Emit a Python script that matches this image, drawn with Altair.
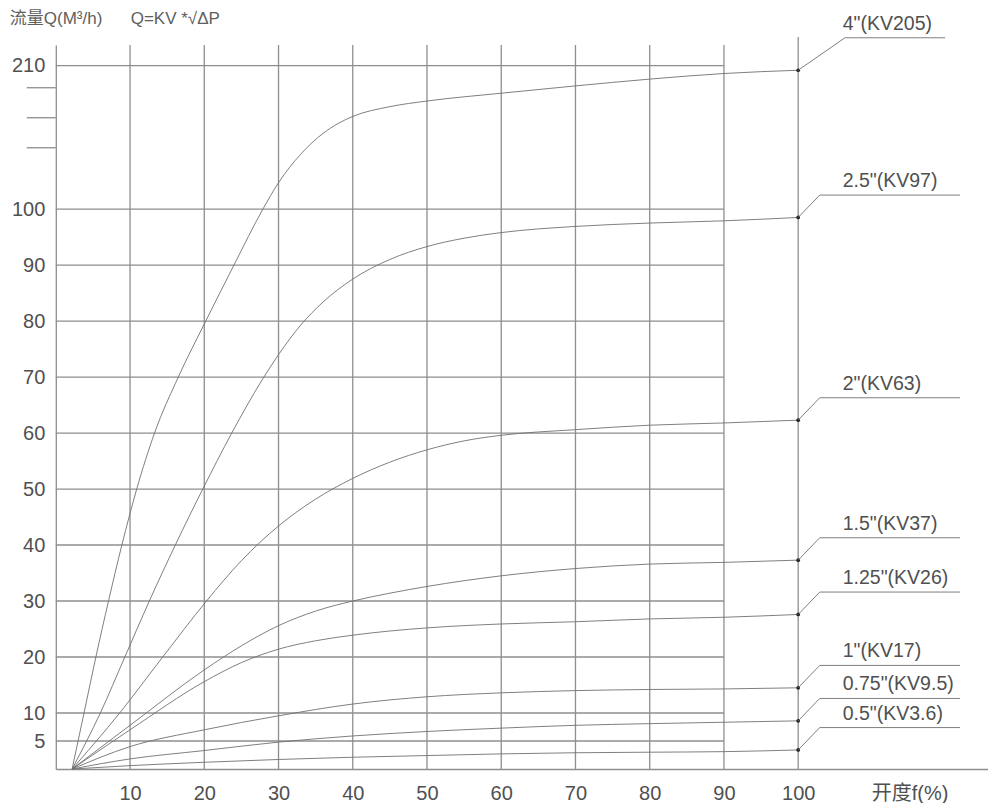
import altair as alt
import pandas as pd

# ---------------- data ----------------
x_tick_values = [10, 20, 30, 40, 50, 60, 70, 80, 90, 100]
y_tick_values = [5, 10, 20, 30, 40, 50, 60, 70, 80, 90, 100, 210]
y_minor_ticks = [147, 170, 193]

series_names = ['4"(KV205)', '2.5"(KV97)', '2"(KV63)', '1.5"(KV37)',
                '1.25"(KV26)', '1"(KV17)', '0.75"(KV9.5)', '0.5"(KV3.6)']

x_4in = [2.2, 3.8, 5.4, 7.1, 8.9, 10.9, 13.3, 16.5, 20.2, 24.0, 27.9, 30, 33, 36, 38, 40, 45, 50, 60, 70, 80, 90, 100]
q_4in = [0, 10, 20, 30, 40, 50, 60, 70, 80, 90, 100, 120.2, 142.1, 158.0, 165.5, 171.0, 178.5, 182.8, 188.8, 194.4, 199.6, 203.9, 206.4]

x_25in = [2.2, 6.0, 9.3, 12.6, 16.1, 19.8, 23.7, 27.8, 30, 33, 36, 40, 45, 50, 55, 60, 70, 80, 90, 100]
q_25in = [0, 10, 20, 30, 40, 50, 60, 69.5, 74.0, 79.3, 83.4, 87.5, 91.0, 93.3, 94.8, 95.8, 96.9, 97.5, 97.9, 98.5]

x_2in = [2.2, 8.6, 14.4, 20.3, 25, 30, 35, 40, 45, 50, 55, 60, 70, 80, 90, 100]
q_2in = [0, 10, 20, 30, 37.2, 43.4, 48.2, 51.9, 54.8, 57.0, 58.6, 59.6, 60.6, 61.4, 61.8, 62.3]

x_15in = [2.2, 10, 20, 25, 30, 35, 40, 45, 50, 60, 70, 80, 90, 100]
q_15in = [0, 7.8, 17.7, 22.0, 25.6, 28.2, 30.0, 31.4, 32.6, 34.5, 35.8, 36.6, 36.9, 37.3]

x_125in = [2.2, 10, 20, 25, 30, 35, 40, 50, 60, 70, 80, 90, 100]
q_125in = [0, 7.0, 15.6, 19.0, 21.4, 22.9, 23.9, 25.2, 25.9, 26.3, 26.8, 27.1, 27.6]

x_1in = [2.2, 10, 20, 30, 40, 50, 60, 70, 80, 90, 100]
q_1in = [0, 4.0, 7.0, 9.5, 11.6, 12.9, 13.6, 14.0, 14.2, 14.3, 14.5]

x_075in = [2.2, 10, 20, 30, 40, 50, 60, 70, 80, 90, 100]
q_075in = [0, 1.8, 3.3, 4.8, 5.9, 6.7, 7.3, 7.8, 8.1, 8.35, 8.6]

x_05in = [2.2, 10, 20, 30, 40, 50, 60, 70, 80, 90, 100]
q_05in = [0, 0.6, 1.2, 1.7, 2.1, 2.4, 2.7, 2.9, 3.0, 3.1, 3.4]

series_x = [x_4in, x_25in, x_2in, x_15in, x_125in, x_1in, x_075in, x_05in]
series_q = [q_4in, q_25in, q_2in, q_15in, q_125in, q_1in, q_075in, q_05in]

# ---------------- layout constants ----------------
K = 0.233            # compression of the axis above 100 (broken axis)
X_MAX = 125.5
Y_TOP = 129.3
W = 931.7
H = 724
FONT = "Liberation Sans, Noto Sans CJK SC, sans-serif"
GRID = "#8e8e8e"
CURVE = "#707070"
TEXT = "#505050"

def disp(q):
    return q if q <= 100 else 100 + (q - 100) * K

rows = []
for name, xs_, qs in zip(series_names, series_x, series_q):
    for xv, qv in zip(xs_, qs):
        rows.append({"series": name, "x": xv, "Q": qv, "d": disp(qv)})
curves_df = pd.DataFrame(rows)

ends_df = curves_df[curves_df["x"] == 100].copy()

lead_rows, label_rows = [], []
for i, (name, qs) in enumerate(zip(series_names, series_q)):
    e = disp(qs[-1])
    knee = 106.3 if i == 0 else 102.9
    rise = 5.8 if i == 0 else 4.0
    stop = 119.8 if i == 0 else 121.8
    lead_rows += [
        {"series": name, "o": 0, "x": 100, "d": e},
        {"series": name, "o": 1, "x": knee, "d": e + rise},
        {"series": name, "o": 2, "x": stop, "d": e + rise},
    ]
    label_rows.append({"series": name, "x": 106.0, "d": e + rise})
lead_df = pd.DataFrame(lead_rows)
label_df = pd.DataFrame(label_rows)

# horizontal grid lines run from the y axis to the 90 % line
hgrid_df = pd.DataFrame({"d": [disp(v) for v in y_tick_values],
                         "x": 0, "x1": x_tick_values[-2]})
vgrid_df = pd.DataFrame({"x": x_tick_values[:-1]})
vlast_df = pd.DataFrame({"x": x_tick_values[-1:]})
minor_df = pd.DataFrame({"d": [disp(v) for v in y_minor_ticks]})

xs = alt.Scale(domain=[0, X_MAX], nice=False, zero=False)
ys = alt.Scale(domain=[0, Y_TOP], nice=False, zero=False)

XAX = alt.Axis(
    values=x_tick_values + [115.0], title=None, grid=False, ticks=False,
    domain=True, domainColor=GRID, domainWidth=1.3,
    labelExpr="datum.value > 105 ? '开度f(%)' : datum.label",
    labelFont=FONT, labelFontSize=20, labelColor=TEXT,
    labelBaseline="alphabetic", labelPadding=30,
    labelFlush=False, labelOverlap=False,
)
YAX = alt.Axis(
    values=[disp(v) for v in y_tick_values], title=None, grid=False, ticks=False,
    domain=True, domainColor=GRID, domainWidth=1.3,
    labelExpr="datum.value > 100.5 ? format(100 + (datum.value - 100) / %s, '.0f') : datum.label" % K,
    labelFont=FONT, labelFontSize=20, labelColor=TEXT, labelPadding=11,
    labelFlush=False, labelOverlap=False,
)

def X(field="x"):
    return alt.X(field + ":Q", scale=xs, axis=XAX)

def Y(field="d"):
    return alt.Y(field + ":Q", scale=ys, axis=YAX)

hgrid = alt.Chart(hgrid_df).mark_rule(color=GRID, strokeWidth=1.3).encode(
    y=Y(), x=X(), x2="x1:Q",
)

vgrid = alt.Chart(vgrid_df).mark_rule(color=GRID, strokeWidth=1.3).encode(
    x=X(), y=alt.value(0), y2=alt.value(H),
)

vlast = alt.Chart(vlast_df).mark_rule(color=GRID, strokeWidth=1.3).encode(
    x=X(), y=alt.value(-8), y2=alt.value(H),
)

minor = alt.Chart(minor_df).mark_rule(color=GRID, strokeWidth=1.3).encode(
    y=Y(), x=alt.value(-29), x2=alt.value(0),
)

curves = alt.Chart(curves_df).mark_line(
    color=CURVE, strokeWidth=0.9, interpolate="monotone"
).encode(x=X(), y=Y(), detail="series:N")

dots = alt.Chart(ends_df).mark_point(
    filled=True, color="#222222", size=14, opacity=1
).encode(x=X(), y=Y())

leaders = alt.Chart(lead_df).mark_line(color=CURVE, strokeWidth=0.9).encode(
    x=X(), y=Y(), detail="series:N", order="o:Q",
)

labels = alt.Chart(label_df).mark_text(
    align="left", baseline="alphabetic", dy=-8, font=FONT, fontSize=19.5, color=TEXT
).encode(x=X(), y=Y(), text="series:N")

chart = alt.layer(hgrid, vgrid, vlast, minor, curves, dots, leaders, labels).properties(
    width=W,
    height=H,
    autosize=alt.AutoSizeParams(type="none"),
    padding={"left": 47.8, "top": 37, "right": 2, "bottom": 34},
    title=alt.TitleParams(
        text="流量Q(M³/h)\u00a0\u00a0\u00a0\u00a0\u00a0\u00a0Q=KV *√ΔP",
        anchor="start", frame="group", dx=-46, offset=-14,
        font=FONT, fontSize=17, fontWeight="normal", color="#606060",
    ),
).configure(background="white").configure_view(stroke=None)

chart.save("out.html", embed_options={"renderer": "svg", "actions": False})
